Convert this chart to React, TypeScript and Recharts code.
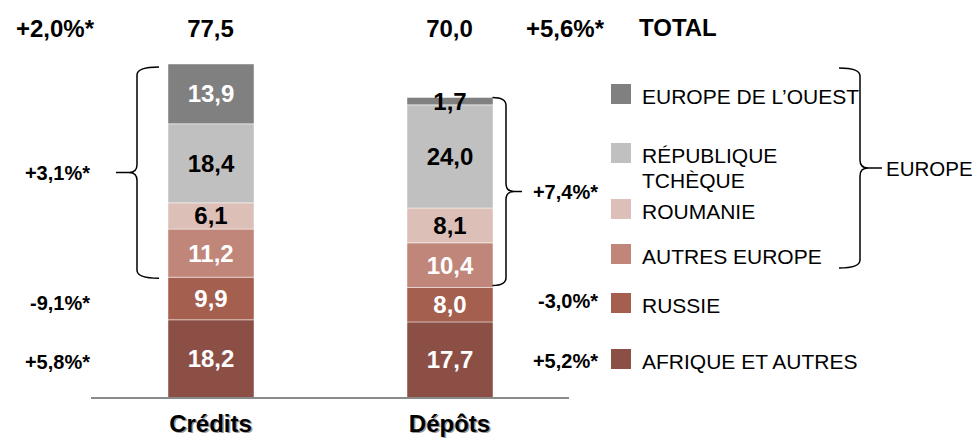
import React from "react";
import { BarChart, Bar, XAxis, YAxis, LabelList } from "recharts";

// values (Md EUR)
const categories = ["Crédits", "Dépôts"];
const afriqueEtAutres = [18.2, 17.7];
const russie = [9.9, 8.0];
const autresEurope = [11.2, 10.4];
const roumanie = [6.1, 8.1];
const republiqueTcheque = [18.4, 24.0];
const europeOuest = [13.9, 1.7];

const totalLabels = ["77,5", "70,0"];
const totalGrowth = ["+2,0%*", "+5,6%*"];
const europeGrowth = ["+3,1%*", "+7,4%*"];
const russieGrowth = ["-9,1%*", "-3,0%*"];
const afriqueGrowth = ["+5,8%*", "+5,2%*"];

const series = [
  { key: "afrique", name: "AFRIQUE ET AUTRES", values: afriqueEtAutres, color: "#8b4f46", text: "#ffffff" },
  { key: "russie", name: "RUSSIE", values: russie, color: "#a45f4f", text: "#ffffff" },
  { key: "autres", name: "AUTRES EUROPE", values: autresEurope, color: "#c0867a", text: "#ffffff" },
  { key: "roumanie", name: "ROUMANIE", values: roumanie, color: "#dcbfb7", text: "#000000" },
  { key: "tcheque", name: "RÉPUBLIQUE\nTCHÈQUE", values: republiqueTcheque, color: "#c0c0c0", text: "#000000" },
  { key: "ouest", name: "EUROPE DE L\u2019OUEST", values: europeOuest, color: "#808080", text: "#ffffff" },
];

const data = categories.map((name, i) => {
  const row: Record<string, string | number> = { name };
  series.forEach((s) => (row[s.key] = s.values[i]));
  return row;
});

const W = 975;
const H = 438;
const PLOT_LEFT = 91;
const PLOT_RIGHT = 569;
const PLOT_TOP = 64;
const PLOT_BOTTOM = 398;
const FONT = "'Liberation Sans', Arial, sans-serif";

const stackTotals = categories.map((_, i) => series.reduce((a, s) => a + s.values[i], 0));
const maxTotal = Math.max(...stackTotals);
const yOf = (v: number) => PLOT_BOTTOM - (v / maxTotal) * (PLOT_BOTTOM - PLOT_TOP);
const band = (PLOT_RIGHT - PLOT_LEFT) / categories.length;
const xCenter = (i: number) => PLOT_LEFT + band * (i + 0.5);
const fmt = (v: number) => v.toFixed(1).replace(".", ",");

// sum of the first n series for bar i
const cum = (i: number, n: number) => series.slice(0, n).reduce((a, s) => a + s.values[i], 0);

function bracePath(xEdge: number, xSpine: number, xTip: number, y1: number, y2: number) {
  const r = 8;
  const ym = (y1 + y2) / 2;
  const s = xTip < xSpine ? -1 : 1;
  return [
    `M ${xEdge} ${y1} Q ${xSpine} ${y1} ${xSpine} ${y1 + r}`,
    `L ${xSpine} ${ym - r} Q ${xSpine} ${ym} ${xSpine + s * r} ${ym} L ${xTip} ${ym}`,
    `M ${xSpine + s * r} ${ym} Q ${xSpine} ${ym} ${xSpine} ${ym + r}`,
    `L ${xSpine} ${y2 - r} Q ${xSpine} ${y2} ${xEdge} ${y2}`,
  ].join(" ");
}

const makeLabel = (textColor: string) => (props: any) => {
  const vb = props.viewBox || {};
  const x = props.x ?? vb.x;
  const y = props.y ?? vb.y;
  const w = props.width ?? vb.width;
  const h = props.height ?? vb.height;
  const v = Number(props.value);
  const fill = v < 5 ? "#000000" : textColor;
  return (
    <text
      x={x + w / 2}
      y={y + h / 2}
      textAnchor="middle"
      dominantBaseline="central"
      fill={fill}
      fontFamily={FONT}
      fontWeight="bold"
      fontSize={24}
    >
      {fmt(v)}
    </text>
  );
};

const CategoryTick = (props: any) => {
  const { x, payload } = props;
  return (
    <g>
      <text x={x + 1.5} y={433} textAnchor="middle" fill="#9a9a9a" fontFamily={FONT} fontWeight="bold" fontSize={24}>
        {payload.value}
      </text>
      <text x={x} y={431.5} textAnchor="middle" fill="#000000" fontFamily={FONT} fontWeight="bold" fontSize={24}>
        {payload.value}
      </text>
    </g>
  );
};

// legend rows (square top, text line centres)
const legendRows = [
  { idx: 5, top: 84, lines: [96] },
  { idx: 4, top: 143, lines: [155, 180] },
  { idx: 3, top: 199, lines: [211] },
  { idx: 2, top: 244, lines: [256] },
  { idx: 1, top: 293, lines: [305] },
  { idx: 0, top: 349, lines: [361] },
];

export default function App() {
  if (typeof document !== "undefined") document.body.style.margin = "0";
  const leftX = 90;
  const rightX = 598;
  const boldNote = { fontFamily: FONT, fontWeight: "bold" as const, fontSize: 20, fill: "#000" };
  const topText = { fontFamily: FONT, fontWeight: "bold" as const, fontSize: 24, fill: "#000" };

  return (
    <div style={{ position: "absolute", left: 0, top: 0, width: W, height: H, background: "#fff" }}>
      <BarChart
        width={W}
        height={H}
        data={data}
        margin={{ top: PLOT_TOP, left: PLOT_LEFT, right: W - PLOT_RIGHT, bottom: 0 }}
        barSize={86}
      >
        <YAxis hide domain={[0, "dataMax"]} />
        <XAxis
          dataKey="name"
          height={H - PLOT_BOTTOM}
          tickLine={false}
          axisLine={{ stroke: "#8a8a8a", strokeWidth: 2 }}
          tick={<CategoryTick />}
          interval={0}
        />
        {series.map((s) => (
          <Bar
            key={s.key}
            dataKey={s.key}
            stackId="a"
            fill={s.color}
            stroke="rgba(255,255,255,0.45)"
            strokeWidth={1}
            isAnimationActive={false}
          >
            <LabelList dataKey={s.key} content={makeLabel(s.text)} />
          </Bar>
        ))}
      </BarChart>

      <svg width={W} height={H} style={{ position: "absolute", left: 0, top: 0, pointerEvents: "none" }}>
        {/* totals row */}
        <text x={94} y={28} textAnchor="end" dominantBaseline="central" {...topText}>
          {totalGrowth[0]}
        </text>
        {totalLabels.map((t, i) => (
          <text key={t} x={xCenter(i)} y={28} textAnchor="middle" dominantBaseline="central" {...topText}>
            {t}
          </text>
        ))}
        <text x={604} y={28} textAnchor="end" dominantBaseline="central" {...topText}>
          {totalGrowth[1]}
        </text>
        <text x={639} y={27} dominantBaseline="central" {...topText}>
          TOTAL
        </text>

        {/* braces around the Europe segments */}
        <path
          d={bracePath(159, 137, 116, yOf(cum(0, 6)) + 3, yOf(cum(0, 2)) + 1)}
          fill="none"
          stroke="#000"
          strokeWidth={1.5}
        />
        <path
          d={bracePath(PLOT_LEFT + band * 1.5 + 43, 506, 522, yOf(cum(1, 6)), yOf(cum(1, 2)) - 2)}
          fill="none"
          stroke="#000"
          strokeWidth={1.5}
        />
        <path d={bracePath(839, 860, 882, 68, 268)} fill="none" stroke="#000" strokeWidth={1.5} />
        <text x={886} y={168} dominantBaseline="central" fontFamily={FONT} fontSize={20.5}>
          EUROPE
        </text>

        {/* growth notes */}
        <text x={leftX} y={173} textAnchor="end" dominantBaseline="central" {...boldNote}>{europeGrowth[0]}</text>
        <text x={leftX} y={303} textAnchor="end" dominantBaseline="central" {...boldNote}>{russieGrowth[0]}</text>
        <text x={leftX} y={362} textAnchor="end" dominantBaseline="central" {...boldNote}>{afriqueGrowth[0]}</text>
        <text x={rightX} y={192} textAnchor="end" dominantBaseline="central" {...boldNote}>{europeGrowth[1]}</text>
        <text x={rightX} y={301} textAnchor="end" dominantBaseline="central" {...boldNote}>{russieGrowth[1]}</text>
        <text x={rightX} y={361} textAnchor="end" dominantBaseline="central" {...boldNote}>{afriqueGrowth[1]}</text>

        {/* legend */}
        {legendRows.map((row) => {
          const s = series[row.idx];
          const lines = s.name.split("\n");
          return (
            <g key={s.key}>
              <rect x={611} y={row.top} width={20} height={20} fill={s.color} />
              {lines.map((ln, j) => (
                <text key={j} x={642} y={row.lines[j]} dominantBaseline="central" fontFamily={FONT} fontSize={21} fill="#000">
                  {ln}
                </text>
              ))}
            </g>
          );
        })}
      </svg>
    </div>
  );
}
